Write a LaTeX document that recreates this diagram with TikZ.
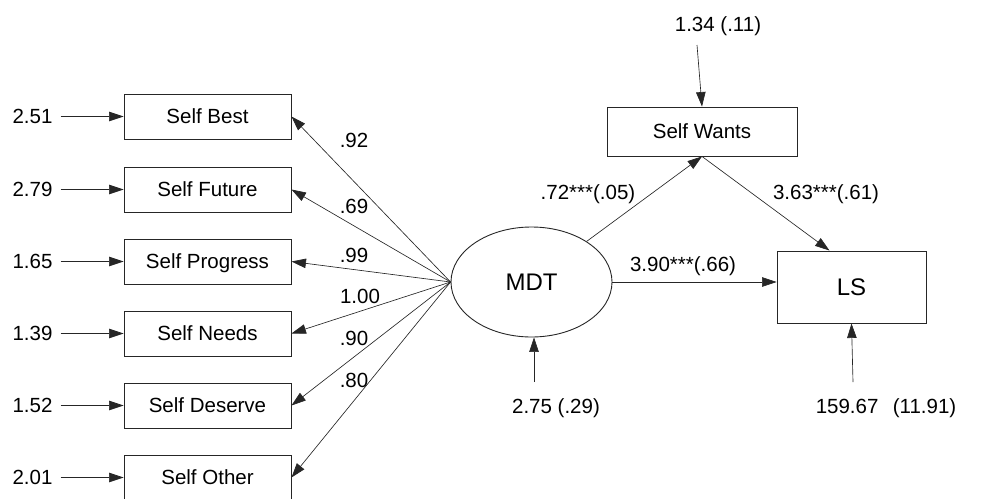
\documentclass[tikz,border=0pt]{standalone}
\usepackage{fontspec}
\setmainfont{Liberation Sans}
\usetikzlibrary{arrows.meta,shapes.geometric}
\begin{document}
\begin{tikzpicture}[x=1pt,y=-1pt,
  txt/.style={font=\fontsize{20.5}{24}\selectfont, inner sep=0pt,
    text height=14.7pt, text depth=0pt},
  bigtxt/.style={font=\fontsize{24}{28}\selectfont, inner sep=0pt,
    text height=17.2pt, text depth=0pt},
  obs/.style={txt, draw=black!85, line width=0.9pt,
    minimum width=167pt, minimum height=45pt},
  conn/.style={draw=black!85, line width=0.65pt,
    -{Triangle[length=14.5pt,width=9.5pt]}}]
\useasboundingbox (0,0) rectangle (1000,498);
\clip (0,0) rectangle (1000,498);

% indicator boxes
\node[obs] (b1) at (207.5,116.5) {Self Best};
\node[obs] (b2) at (207.5,189.5) {Self Future};
\node[obs] (b3) at (207.5,261.5) {Self Progress};
\node[obs] (b4) at (207.5,333.5) {Self Needs};
\node[obs] (b5) at (207.5,405.5) {Self Deserve};
\node[obs] (b6) at (207.5,477.5) {Self Other};

% error variances of the indicators
\node[txt] (e1) at (32.5,116.5) {2.51};
\node[txt] (e2) at (32.5,189.5) {2.79};
\node[txt] (e3) at (32.5,261.5) {1.65};
\node[txt] (e4) at (32.5,333.5) {1.39};
\node[txt] (e5) at (32.5,405.5) {1.52};
\node[txt] (e6) at (32.5,477.5) {2.01};
\foreach \i in {1,...,6}
  \draw[conn, shorten <=8pt] (e\i.east) -- (b\i.west);

% latent factor
\node[bigtxt, draw=black!85, line width=0.9pt, ellipse,
  minimum width=161pt, minimum height=110pt] (MDT) at (531.5,282) {MDT};

% factor loadings
\foreach \i in {1,...,6}
  \draw[conn] (MDT.west) -- (b\i.east);
\node[txt] at (354,140) {.92};
\node[txt] at (354,206) {.69};
\node[txt] at (354,255) {.99};
\node[txt] at (360,296) {1.00};
\node[txt] at (354,338) {.90};
\node[txt] at (354,380) {.80};

% mediator and outcome
\node[txt, draw=black!85, line width=0.9pt,
  minimum width=190pt, minimum height=49pt] (SW) at (702,131.5) {Self Wants};
\node[bigtxt, draw=black!85, line width=0.9pt,
  minimum width=149pt, minimum height=72pt] (LS) at (851.5,287) {LS};

% structural paths
\draw[conn] (MDT) -- (SW.south);
\draw[conn] (SW.south) -- ([xshift=-22pt]LS.north);
\draw[conn] (MDT) -- (MDT -| LS.west);
\node[txt] at (588,192) {.72***(.05)};
\node[txt] at (826,192) {3.63***(.61)};
\node[txt] at (683,264) {3.90***(.66)};

% disturbances
\node[txt] at (718,24) {1.34 (.11)};
\coordinate (dSW) at (697,45);
\draw[conn] (dSW) -- (SW.north);
\node[txt] at (556,406) {2.75 (.29)};
\coordinate (dMDT) at (534,382);
\draw[conn] (dMDT) -- (dMDT |- MDT.south);
\node[txt] at (886,406) {159.67\hspace{0.7em}(11.91)};
\coordinate (dLS) at (853,382);
\draw[conn] (dLS) -- (LS.south);
\end{tikzpicture}
\end{document}
